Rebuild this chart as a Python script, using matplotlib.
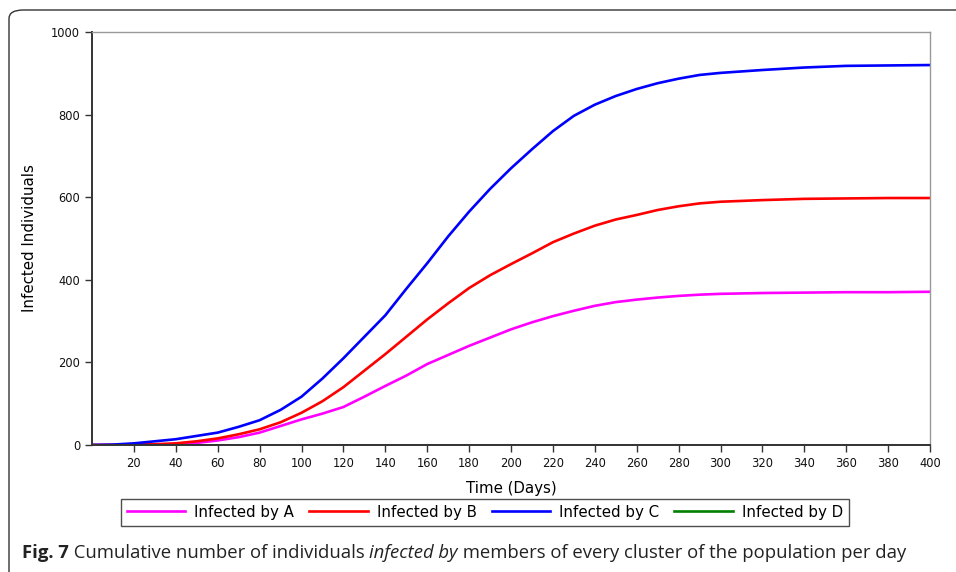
import matplotlib
matplotlib.use("Agg")
import matplotlib.pyplot as plt
from matplotlib.patches import FancyBboxPatch

plt.rcParams["font.family"] = ["DejaVu Sans"]

days = [0, 10, 20, 30, 40, 50, 60, 70, 80, 90, 100, 110, 120, 130, 140, 150,
        160, 170, 180, 190, 200, 210, 220, 230, 240, 250, 260, 270, 280, 290,
        300, 320, 340, 360, 380, 400]
infected_a = [0, 0, 0, 1, 2, 5, 11, 19, 30, 46, 62, 76, 92, 117, 143, 168,
              196, 218, 240, 260, 280, 297, 312, 325, 337, 346, 352, 357, 361, 364,
              366, 368, 369, 370, 370, 371]
infected_b = [0, 0, 1, 2, 4, 9, 16, 26, 38, 55, 78, 106, 140, 180, 220, 262,
              304, 343, 380, 411, 438, 464, 491, 512, 531, 546, 557, 569, 578, 585,
              589, 593, 596, 597, 598, 598]
infected_c = [0, 1, 4, 9, 14, 22, 30, 44, 60, 85, 117, 161, 210, 262, 314, 378,
              440, 505, 565, 620, 670, 716, 760, 797, 824, 845, 862, 876, 887, 896,
              901, 908, 914, 918, 919, 920]
infected_d = [0] * len(days)

series = [("Infected by A", infected_a, "#ff00ff"),
          ("Infected by B", infected_b, "#ff0000"),
          ("Infected by C", infected_c, "#0000ff"),
          ("Infected by D", infected_d, "#008000")]

x_ticks = list(range(20, 401, 20))
y_ticks = list(range(0, 1001, 200))

W, H = 956, 572
fig = plt.figure(figsize=(W / 100, H / 100), dpi=100)
ax = fig.add_axes([92 / W, 1 - 445 / H, 838 / W, 413 / H])

for label, vals, col in series:
    ax.plot(days, vals, color=col, lw=1.9, label=label, solid_joinstyle="round")

ax.set_xlim(0, 400)
ax.set_ylim(0, 1000)
ax.set_xticks(x_ticks)
ax.set_yticks(y_ticks)
ax.tick_params(labelsize=8.3, length=5, width=1, color="#333333", labelcolor="#111111")
for s in ("left", "bottom"):
    ax.spines[s].set_color("#333333")
    ax.spines[s].set_linewidth(1.4)
for s in ("top", "right"):
    ax.spines[s].set_color("#999999")
    ax.spines[s].set_linewidth(1.0)
ax.set_xlabel("Time (Days)", fontsize=10.8, labelpad=8)
ax.set_ylabel("Infected Individuals", fontsize=10.8, labelpad=10)

leg = fig.legend(loc="center", bbox_to_anchor=(485 / W, 1 - 512 / H), ncol=4,
                 fontsize=10.8, handlelength=3.9, handletextpad=0.6,
                 columnspacing=1.0, frameon=True, fancybox=False,
                 borderpad=0.4)
leg.get_frame().set_edgecolor("#222222")
leg.get_frame().set_linewidth(1.0)

# outer frame of the figure panel
frame = FancyBboxPatch((9 / W, -0.1), 1.2, 1 - 10 / H + 0.1,
                       boxstyle="round,pad=0,rounding_size=0.015",
                       transform=fig.transFigure, fill=False,
                       edgecolor="#333333", lw=1.0, clip_on=False)
fig.patches.append(frame)

# caption, built piece by piece
renderer = fig.canvas.get_renderer()
cap_y = 1 - 553 / H
x = 22 / W
pieces = [("Fig. 7", "bold", "normal"),
          (" Cumulative number of individuals ", "normal", "normal"),
          ("infected by", "normal", "italic"),
          (" members of every cluster of the population per day", "normal", "normal")]
for txt, wt, st in pieces:
    t = fig.text(x, cap_y, txt, fontsize=13.3, family="Open Sans", weight=wt,
                 style=st, va="center", ha="left", color="#222222")
    bb = t.get_window_extent(renderer)
    x += bb.width / W

fig.savefig("out.png", dpi=100)
